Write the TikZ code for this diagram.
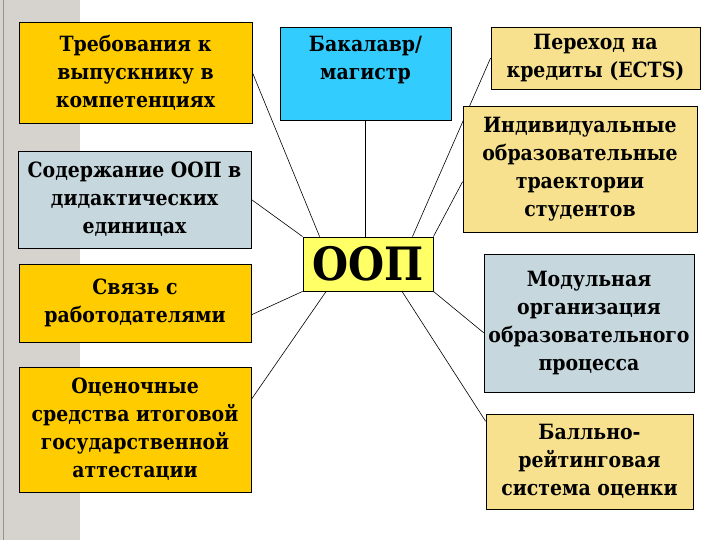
\documentclass[tikz,border=0pt]{standalone}
\usepackage{fontspec}
\setmainfont{DejaVu Serif Condensed}
\usepackage{tikz}
\usetikzlibrary{calc, backgrounds}
\definecolor{goldcolor}{RGB}{255,204,0}
\definecolor{greycolor}{RGB}{198,215,222}
\definecolor{cyancolor}{RGB}{51,204,255}
\definecolor{oopcolor}{RGB}{255,255,102}
\definecolor{sandcolor}{RGB}{247,225,143}
\definecolor{stripcolor}{RGB}{214,211,206}
\definecolor{stripedge}{RGB}{150,146,142}

\begin{document}
\begin{tikzpicture}[
    x=1pt, y=-1pt,
    element/.style={draw, line width=0.8pt, inner sep=0pt, align=center, font=\bfseries\fontsize{21}{28}\selectfont},
    link/.style={line width=0.6pt}
]
    \useasboundingbox (0,0) rectangle (720,540);

    % Left column
    \node[element, fill=goldcolor, minimum width=233pt, minimum height=101pt] (treb) at (135.5,72.5) {Требования к\\выпускнику в\\компетенциях};
    \node[element, fill=greycolor, minimum width=233pt, minimum height=97pt] (soder) at (134.5,199.5) {Содержание ООП в\\дидактических\\единицах};
    \node[element, fill=goldcolor, minimum width=232pt, minimum height=78pt] (svyaz) at (135,303) {Связь с\\работодателями};
    \node[element, fill=goldcolor, minimum width=232pt, minimum height=125pt] (ocen) at (135,429.5) {Оценочные\\средства итоговой\\государственной\\аттестации};

    % Centre
    \node[element, fill=cyancolor, minimum width=171pt, inner ysep=9pt, text depth=32pt, anchor=north] (bak) at (365.5,27) {Бакалавр/\\магистр};
    \node[element, fill=oopcolor, minimum width=130pt, minimum height=54pt, font=\bfseries\fontsize{46}{52}\selectfont] (oop) at (368,264) {ООП};

    % Right column
    \node[element, fill=sandcolor, minimum width=209pt, minimum height=62pt] (perehod) at (595.5,58) {Переход на\\кредиты (ECTS)};
    \node[element, fill=sandcolor, minimum width=234pt, minimum height=126pt] (indiv) at (580,169) {Индивидуальные\\образовательные\\траектории\\студентов};
    \node[element, fill=greycolor, minimum width=210pt, minimum height=138pt] (modul) at (589,323) {Модульная\\организация\\образовательного\\процесса};
    \node[element, fill=sandcolor, minimum width=207pt, minimum height=95pt] (ball) at (589.5,461.5) {Балльно-\\рейтинговая\\система оценки};

    \begin{scope}[on background layer]
        % Grey strip
        \fill[stripcolor] (0,0) rectangle (80,540);
        \draw[stripedge, line width=1pt] (3,0) -- (3,540);

        % Connections
        \draw[link] (treb.east) -- ($(oop.north west)!0.13!(oop.north east)$);
        \draw[link] (soder.east) -- (oop.north west);
        \draw[link] ($(svyaz.north east)!0.65!(svyaz.south east)$) -- (oop.south west);
        \draw[link] ($(ocen.north east)!0.26!(ocen.south east)$) -- ($(oop.south west)!0.18!(oop.south east)$);
        \draw[link] (bak.south) -- (bak.south |- oop.north);
        \draw[link] (perehod.west) -- ($(oop.north west)!0.84!(oop.north east)$);
        \draw[link] ($(indiv.north west)!0.6!(indiv.south west)$) -- (oop.north east);
        \draw[link] (oop.south east) -- ($(modul.north west)!0.57!(modul.south west)$);
        \draw[link] ($(oop.south west)!0.76!(oop.south east)$) -- ($(ball.north west)!0.08!(ball.south west)$);
    \end{scope}
\end{tikzpicture}
\end{document}
